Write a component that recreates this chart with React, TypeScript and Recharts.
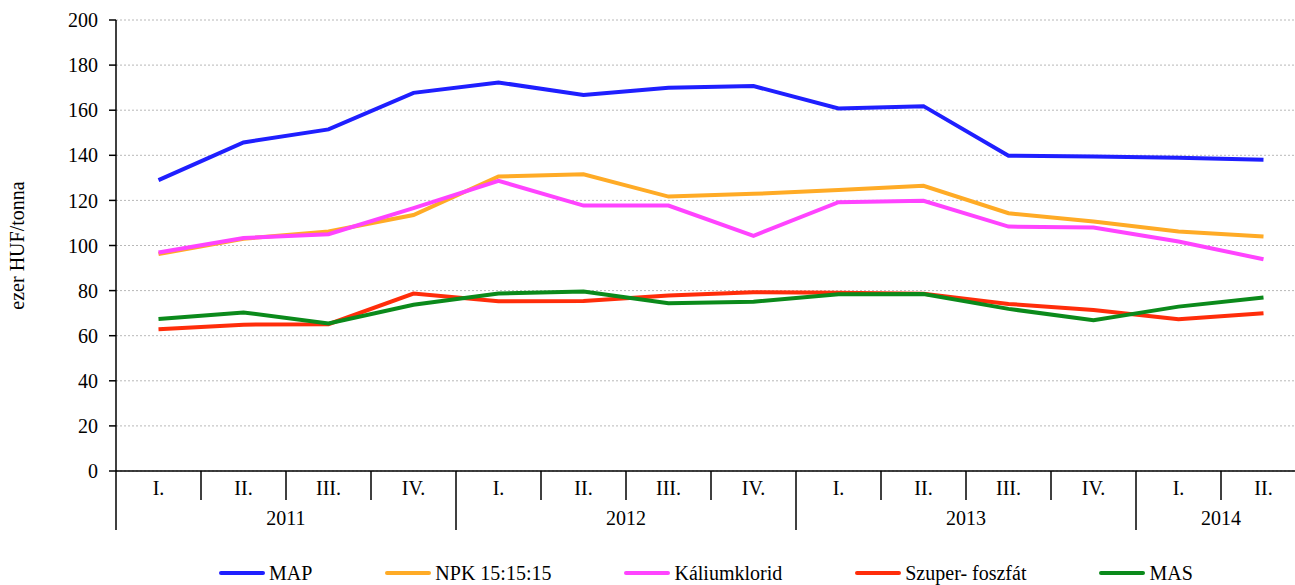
import React from 'react';
import { LineChart, Line, XAxis, YAxis, CartesianGrid, Legend } from 'recharts';

const quarters = ['I.', 'II.', 'III.', 'IV.', 'I.', 'II.', 'III.', 'IV.', 'I.', 'II.', 'III.', 'IV.', 'I.', 'II.'];
const years = ['2011', '2011', '2011', '2011', '2012', '2012', '2012', '2012', '2013', '2013', '2013', '2013', '2014', '2014'];
const mapValues = [129.0, 145.7, 151.5, 167.7, 172.3, 166.7, 170.0, 170.7, 160.8, 161.8, 139.8, 139.5, 138.9, 138.0];
const npkValues = [96.2, 103.0, 106.2, 113.5, 130.6, 131.6, 121.7, 122.9, 124.6, 126.5, 114.3, 110.6, 106.2, 104.0];
const kaliumValues = [96.9, 103.3, 105.0, 116.6, 128.7, 117.7, 117.7, 104.3, 119.2, 119.8, 108.4, 108.0, 101.8, 93.9];
const szuperValues = [62.9, 64.9, 65.1, 78.7, 75.3, 75.4, 77.8, 79.3, 79.0, 78.6, 74.1, 71.4, 67.3, 70.0];
const masValues = [67.4, 70.3, 65.4, 73.7, 78.7, 79.6, 74.4, 75.1, 78.4, 78.5, 71.9, 66.9, 72.9, 76.9];
const yTicks = [0, 20, 40, 60, 80, 100, 120, 140, 160, 180, 200];
const seriesOrder = ['MAP', 'NPK', 'Kalium', 'Szuper', 'MAS'];

const data = quarters.map((q, i) => ({
  key: `${years[i]}-${q}`,
  q,
  year: years[i],
  MAP: mapValues[i],
  NPK: npkValues[i],
  Kalium: kaliumValues[i],
  Szuper: szuperValues[i],
  MAS: masValues[i],
}));

const FONT = '"Times New Roman", "Liberation Serif", serif';
const CHART_W = 1310;
const CHART_H = 585;
const Y_AXIS_W = 116;
const MARGIN = { top: 20, right: 4, left: 0, bottom: 0 };
const PLOT_W = CHART_W - MARGIN.left - MARGIN.right - Y_AXIS_W;
const BAND = PLOT_W / quarters.length;

const groupInfo = (i: number) => {
  const y = years[i];
  const first = years.indexOf(y);
  const len = years.filter((v) => v === y).length;
  return { first, len };
};

const XTick = (props: any) => {
  const { x, y, index } = props;
  const i = index as number;
  const { first, len } = groupInfo(i);
  const isFirst = i === first;
  const leftX = x - BAND / 2;
  const isLast = i === quarters.length - 1;
  return (
    <g>
      <line x1={leftX} x2={leftX} y1={y} y2={y + (isFirst ? 59 : 29)} stroke="#000" strokeWidth={1.5} />
      {isLast && (
        <line x1={x + BAND / 2} x2={x + BAND / 2} y1={y} y2={y + 59} stroke="#000" strokeWidth={1.5} />
      )}
      <text x={x} y={y + 24} textAnchor="middle" fontFamily={FONT} fontSize={20} fill="#000">
        {quarters[i]}
      </text>
      {isFirst && (
        <text x={leftX + (len * BAND) / 2} y={y + 53.5} textAnchor="middle" fontFamily={FONT} fontSize={20} fill="#000">
          {years[i]}
        </text>
      )}
    </g>
  );
};

const LegendContent = (props: any) => {
  const payload = [...(props.payload || [])].sort(
    (a: any, b: any) => seriesOrder.indexOf(a.dataKey) - seriesOrder.indexOf(b.dataKey)
  );
  return (
    <div
      style={{
        display: 'flex',
        justifyContent: 'flex-start',
        alignItems: 'center',
        paddingLeft: 219,
        paddingTop: 10,
        height: 34,
        boxSizing: 'border-box',
        gap: 73,
        fontFamily: FONT,
        fontSize: 20,
        color: '#000',
      }}
    >
      {payload.map((p: any) => (
        <div key={p.value} style={{ display: 'flex', alignItems: 'center' }}>
          <svg width={46} height={6} style={{ marginRight: 4 }}>
            <line x1={2} x2={44} y1={3} y2={3} stroke={p.color} strokeWidth={4} strokeLinecap="round" />
          </svg>
          <span style={{ lineHeight: '24px', fontFamily: FONT }}>{p.value}</span>
        </div>
      ))}
    </div>
  );
};

const YLabel = (props: any) => {
  const vb = props.viewBox || { x: 0, y: 20, width: 116, height: 451 };
  const cx = 24;
  const cy = vb.y + vb.height / 2;
  return (
    <text
      x={cx}
      y={cy}
      transform={`rotate(-90, ${cx}, ${cy})`}
      textAnchor="middle"
      fontFamily={FONT}
      fontSize={20}
      fill="#000"
    >
      ezer HUF/tonna
    </text>
  );
};

export default function App() {
  return (
    <div
      style={{
        position: 'absolute',
        left: 0,
        top: 0,
        width: 1295,
        height: 585,
        overflow: 'hidden',
        background: '#fff',
        fontFamily: FONT,
      }}
    >
      <LineChart width={CHART_W} height={CHART_H} data={data} margin={MARGIN}>
        <CartesianGrid vertical={false} stroke="#b8b8b8" strokeDasharray="2 2" />
        <XAxis
          dataKey="key"
          type="category"
          interval={0}
          padding={{ left: BAND / 2, right: BAND / 2 }}
          height={80}
          tickSize={0}
          tickMargin={0}
          tickLine={false}
          axisLine={{ stroke: '#000', strokeWidth: 1.5 }}
          tick={<XTick />}
        />
        <YAxis
          domain={[0, 200]}
          ticks={yTicks}
          width={Y_AXIS_W}
          interval={0}
          tickSize={7}
          tickMargin={11}
          axisLine={{ stroke: '#000', strokeWidth: 1.5 }}
          tickLine={{ stroke: '#000', strokeWidth: 1.5 }}
          tick={{ fontFamily: FONT, fontSize: 20, fill: '#000' }}
          label={<YLabel />}
        />
        <Legend verticalAlign="bottom" height={34} itemSorter={null as any} content={<LegendContent />} />
        <Line dataKey="MAP" name="MAP" stroke="#1f1fff" strokeWidth={4} dot={false} activeDot={false} isAnimationActive={false} />
        <Line dataKey="NPK" name="NPK 15:15:15" stroke="#ffab26" strokeWidth={4} dot={false} activeDot={false} isAnimationActive={false} />
        <Line dataKey="Kalium" name="Káliumklorid" stroke="#ff44ff" strokeWidth={4} dot={false} activeDot={false} isAnimationActive={false} />
        <Line dataKey="Szuper" name="Szuper- foszfát" stroke="#ff2d0a" strokeWidth={4} dot={false} activeDot={false} isAnimationActive={false} />
        <Line dataKey="MAS" name="MAS" stroke="#0b8a1b" strokeWidth={4} dot={false} activeDot={false} isAnimationActive={false} />
      </LineChart>
    </div>
  );
}
